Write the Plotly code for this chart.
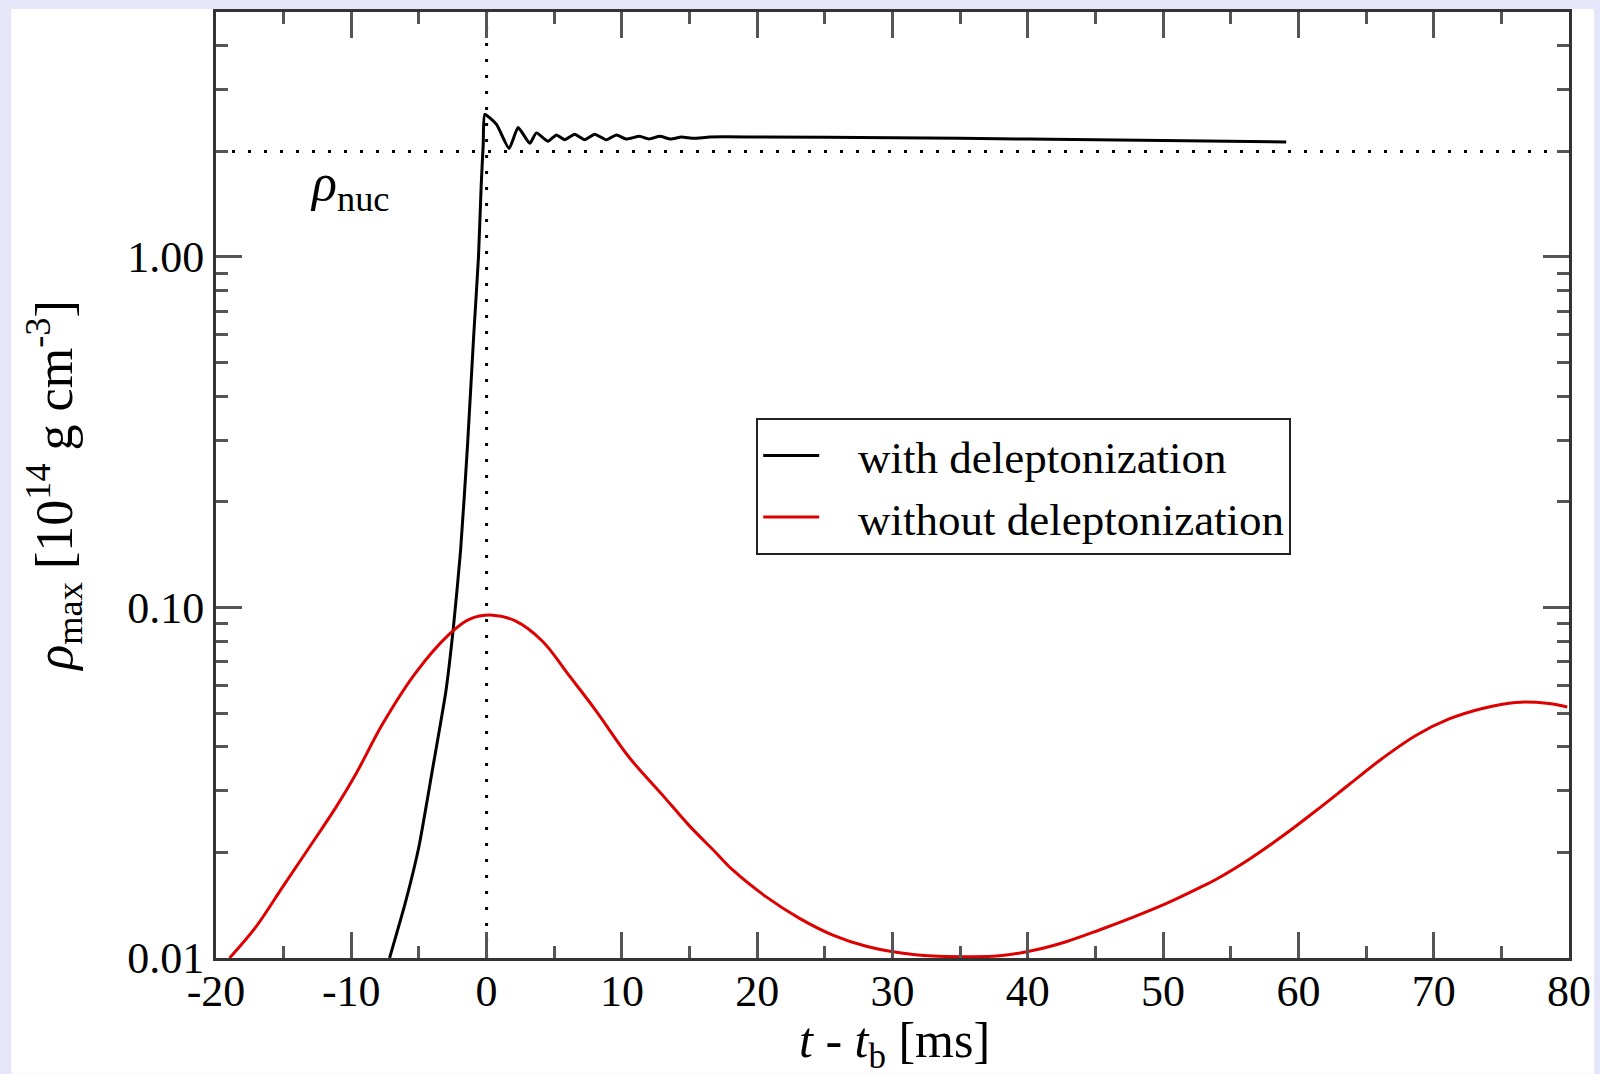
import plotly.graph_objects as go

# ---- data ----
t_with = [-7.17, -6.0, -5.0, -4.0, -3.0, -2.45, -1.92, -1.41, -0.95, -0.6, -0.4, -0.25, -0.13,
          0.73, 1.66, 2.33, 3.19, 3.68, 4.54, 5.16, 5.77, 6.51, 7.25, 7.99, 8.85, 9.59, 10.33,
          11.3, 12.0, 12.8, 13.6, 14.4, 15.3, 16.5, 20.0, 30.0, 40.0, 50.0, 59.1]
rho_with = [0.0100, 0.0144, 0.0208, 0.0345, 0.058, 0.088, 0.146, 0.29, 0.60, 1.0, 1.6, 2.1, 2.55,
            2.39, 2.04, 2.34, 2.11, 2.26, 2.14, 2.23, 2.16, 2.24, 2.16, 2.24, 2.16, 2.23, 2.17,
            2.21, 2.17, 2.21, 2.17, 2.20, 2.18, 2.20, 2.20, 2.19, 2.17, 2.15, 2.13]

t_without = [-19.0, -17.05, -15.07, -13.1, -11.14, -9.66, -7.69, -5.23, -2.77, -1.29, 0.44, 2.16,
             4.13, 6.09, 8.06, 10.53, 12.99, 14.96, 16.93, 18.21, 20.67, 23.13, 25.59, 28.06,
             30.52, 32.98, 35.44, 37.9, 40.36, 42.83, 45.29, 47.75, 50.21, 52.67, 53.9, 56.37,
             58.83, 61.29, 63.75, 66.22, 68.68, 71.14, 73.6, 76.06, 78.52, 79.87]
rho_without = [0.0100, 0.01227, 0.01596, 0.0207, 0.0269, 0.0335, 0.0465, 0.0652, 0.0838, 0.0925,
               0.0951, 0.0914, 0.0801, 0.0640, 0.0509, 0.0374, 0.0292, 0.0239, 0.0200, 0.0178,
               0.01494, 0.01297, 0.01162, 0.0108, 0.01035, 0.01013, 0.01009, 0.01015, 0.0105,
               0.01113, 0.01202, 0.01306, 0.01429, 0.01585, 0.01675, 0.01914, 0.02228, 0.0263,
               0.03126, 0.03715, 0.04315, 0.04808, 0.05152, 0.0536, 0.0532, 0.0520]

RHO_NUC = 2.0
T_BOUNCE = 0.0
X_RANGE = [-20, 80]
Y_MIN, Y_MAX = 0.01, 5.0

x_tickvals = [-20, -10, 0, 10, 20, 30, 40, 50, 60, 70, 80]
x_ticktext = ["-20", "-10", "0", "10", "20", "30", "40", "50", "60", "70", "80"]
x_minorvals = [-15, -5, 5, 15, 25, 35, 45, 55, 65, 75]
y_tickvals = [0.01, 0.1, 1.0]
y_ticktext = ["0.01", "0.10", "1.00"]
y_minorvals = [0.02, 0.03, 0.04, 0.05, 0.06, 0.07, 0.08, 0.09,
               0.2, 0.3, 0.4, 0.5, 0.6, 0.7, 0.8, 0.9, 2, 3, 4]

FONT = "Liberation Serif"
NB = "\u00a0\u00a0\u00a0"

fig = go.Figure()

# reference lines (dotted)
fig.add_trace(go.Scatter(x=X_RANGE, y=[RHO_NUC, RHO_NUC], mode="lines",
                         line=dict(color="black", width=3, dash="3px,13px"),
                         showlegend=False, hoverinfo="skip"))
fig.add_trace(go.Scatter(x=[T_BOUNCE, T_BOUNCE], y=[Y_MIN, Y_MAX], mode="lines",
                         line=dict(color="black", width=3, dash="3px,13px"),
                         showlegend=False, hoverinfo="skip"))

fig.add_trace(go.Scatter(x=t_with, y=rho_with, mode="lines", name=NB + "with deleptonization",
                         line=dict(color="black", width=3, shape="spline", smoothing=0.5),
                         legendgroup="a"))
fig.add_trace(go.Scatter(x=t_without, y=rho_without, mode="lines",
                         name=NB + "without deleptonization",
                         line=dict(color="#dd0000", width=3, shape="spline", smoothing=1.0),
                         legendgroup="b"))

L, R, T, B = 216, 29, 9, 116
W, H = 1600, 1074
pw, ph = W - L - R, H - T - B

def px_x(X):
    return (X - L) / pw

def px_y(Y):
    return (H - B - Y) / ph

axis_common = dict(showline=True, linecolor="#333", linewidth=3, mirror="allticks",
                   ticks="inside", ticklen=26, tickwidth=3, tickcolor="#555",
                   showgrid=False, zeroline=False,
                   tickfont=dict(family=FONT, size=44, color="black"))

fig.update_xaxes(range=X_RANGE, tickmode="array", tickvals=x_tickvals, ticktext=x_ticktext,
                 ticklabelstandoff=-8,
                 minor=dict(tickmode="array", tickvals=x_minorvals, ticks="inside",
                            ticklen=12, tickwidth=3, tickcolor="#555"),
                 **axis_common)
fig.update_yaxes(type="log", range=[-2, 0.69897], tickmode="array", tickvals=y_tickvals,
                 ticktext=y_ticktext,
                 minor=dict(tickmode="array", tickvals=y_minorvals, ticks="inside",
                            ticklen=12, tickwidth=3, tickcolor="#555"),
                 **axis_common)

fig.update_layout(
    width=W, height=H,
    margin=dict(l=L, r=R, t=T, b=B),
    paper_bgcolor="#e6e6fa",
    plot_bgcolor="white",
    font=dict(family=FONT, size=44, color="black"),
    legend=dict(x=px_x(757), y=px_y(416), xanchor="left", yanchor="top",
                bgcolor="white", bordercolor="#222", borderwidth=2,
                font=dict(family=FONT, size=45, color="black"),
                itemwidth=56, tracegroupgap=0),
    shapes=[dict(type="rect", xref="paper", yref="paper",
                 x0=px_x(11), x1=px_x(1596), y0=px_y(1074), y1=px_y(6),
                 fillcolor="white", line=dict(width=0), layer="below")],
    annotations=[
        dict(text="<i>ρ</i><sub>nuc</sub>", xref="paper", yref="paper",
             x=px_x(308), y=px_y(184), xanchor="left", yanchor="middle",
             showarrow=False, font=dict(family=FONT, size=52, color="black")),
        dict(text="<i>ρ</i><sub>max</sub> [10<sup>14</sup> g cm<sup>-3</sup>]",
             xref="paper", yref="paper", x=px_x(54), y=px_y(484),
             xanchor="center", yanchor="middle", textangle=-90,
             showarrow=False, font=dict(family=FONT, size=52, color="black")),
        dict(text="<i>t</i> - <i>t</i><sub>b</sub> [ms]", xref="paper", yref="paper",
             x=px_x(896), y=px_y(1044), xanchor="center", yanchor="middle",
             showarrow=False, font=dict(family=FONT, size=50, color="black")),
    ],
)

fig.write_html("out.html")
